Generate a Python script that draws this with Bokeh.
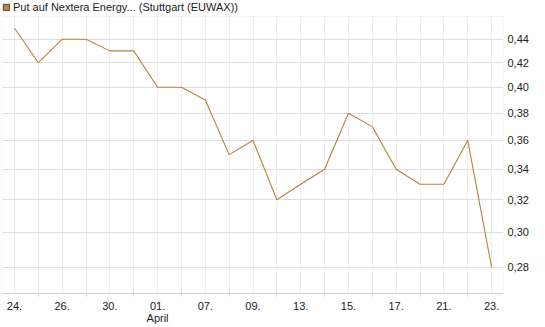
from bokeh.plotting import figure
from bokeh.models import (Range1d, FixedTicker, CustomJSTickFormatter, Legend, LegendItem,
                          ColumnDataSource, BoxAnnotation)
from bokeh.embed import file_html
from bokeh.resources import INLINE

dates = ["24.", "25.", "26.", "27.", "30.", "31.", "01.", "02.", "07.", "08.", "09.",
         "10.", "13.", "14.", "15.", "16.", "17.", "18.", "21.", "22.", "23."]
values = [0.45, 0.42, 0.44, 0.44, 0.43, 0.43, 0.40, 0.40, 0.39, 0.35, 0.36,
          0.32, 0.33, 0.34, 0.38, 0.37, 0.34, 0.33, 0.33, 0.36, 0.28]
y_ticks = [0.28, 0.30, 0.32, 0.34, 0.36, 0.38, 0.40, 0.42, 0.44]
series_name = "Put auf Nextera Energy... (Stuttgart (EUWAX))"

idx = list(range(len(dates)))
line_color = "#b5843c"
font = "Liberation Sans"
text_color = "#222222"

plot_top = 0.4603      # top edge of the drawing area
frame_top = 0.4752     # frame extended upward to hold the legend row

p = figure(width=545, height=327, output_backend="svg", toolbar_location=None,
           y_axis_type="log", y_axis_location="right",
           x_range=Range1d(-0.5, len(dates) - 0.5), y_range=Range1d(0.2657, frame_top),
           min_border_left=2, min_border_top=0, min_border_bottom=34, min_border_right=42)
p.background_fill_color = "white"
p.border_fill_color = "white"
p.outline_line_color = None

src = ColumnDataSource(dict(x=idx, y=values))
r = p.line("x", "y", source=src, line_color=line_color, line_width=1.1)
dummy = p.quad(left=[0], right=[0], top=[0.3], bottom=[0.3], fill_color="#b0844c",
               line_color="#5e4424", fill_alpha=1, line_alpha=1)

# x axis
p.xaxis.ticker = FixedTicker(ticks=idx[::2], minor_ticks=idx[1::2])
over = {}
for i in idx[::2]:
    over[i] = dates[i]
over[6] = "01.\nApril"
p.xaxis.major_label_overrides = over
p.xaxis.axis_line_color = "#cccccc"
p.xaxis.major_tick_line_color = None
p.xaxis.major_tick_out = 0
p.xaxis.major_tick_in = 0
p.xaxis.minor_tick_line_color = "#cccccc"
p.xaxis.minor_tick_out = 3
p.xaxis.minor_tick_in = 0
p.xaxis.major_label_standoff = 3
p.xaxis.major_label_text_font = font
p.xaxis.major_label_text_font_size = "11px"
p.xaxis.major_label_text_color = text_color
p.xaxis.major_label_text_line_height = 1.0

# y axis
p.yaxis.ticker = FixedTicker(ticks=y_ticks, minor_ticks=[])
p.yaxis.formatter = CustomJSTickFormatter(code="return tick.toFixed(2).replace('.', ',');")
p.yaxis.axis_line_color = None
p.yaxis.major_tick_line_color = None
p.yaxis.minor_tick_line_color = None
p.yaxis.major_tick_out = 0
p.yaxis.major_label_standoff = 4
p.yaxis.major_label_text_font = font
p.yaxis.major_label_text_font_size = "11px"
p.yaxis.major_label_text_color = text_color

# grids
p.xgrid.ticker = FixedTicker(ticks=idx)
p.xgrid.grid_line_color = "#eeeeee"
p.ygrid.ticker = FixedTicker(ticks=y_ticks)
p.ygrid.grid_line_color = "#dddddd"

# white cover for the legend row, then the border of the drawing area
cover = BoxAnnotation(bottom=plot_top, fill_color="white", fill_alpha=1, line_color=None,
                      level="glyph")
border = BoxAnnotation(top=plot_top, fill_alpha=0, line_color="#dddddd", line_width=1,
                       level="annotation")
p.add_layout(cover)
p.add_layout(border)

legend = Legend(items=[LegendItem(label=series_name, renderers=[dummy])],
                location="top_left", orientation="horizontal",
                glyph_width=8, glyph_height=8, label_height=14, label_standoff=3,
                padding=0, margin=0, spacing=0,
                border_line_color=None, background_fill_alpha=0,
                label_text_font=font, label_text_font_size="11px",
                label_text_color=text_color)
p.add_layout(legend, "center")

open("out.html", "w").write(file_html(p, INLINE))
